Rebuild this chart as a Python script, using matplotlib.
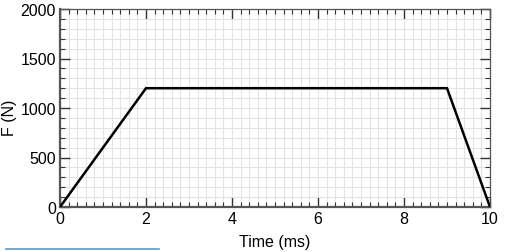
import matplotlib
matplotlib.use("Agg")
import matplotlib.pyplot as plt
from matplotlib.ticker import MultipleLocator
from matplotlib.lines import Line2D

time_ms = [0, 2, 9, 10]
force_n = [0, 1200, 1200, 0]
xticks = [0, 2, 4, 6, 8, 10]
yticks = [0, 500, 1000, 1500, 2000]

plt.rcParams['font.family'] = ['Liberation Sans', 'DejaVu Sans']

fig = plt.figure(figsize=(5.25, 2.53), dpi=100)
ax = fig.add_axes([60/525, 1-208/253, 430/525, 198/253])

ax.plot(time_ms, force_n, color='black', lw=1.8, solid_joinstyle='miter', zorder=3)
ax.set_xlim(0, 10)
ax.set_ylim(0, 2000)
ax.set_xticks(xticks)
ax.set_yticks(yticks)
ax.xaxis.set_minor_locator(MultipleLocator(0.2))
ax.yaxis.set_minor_locator(MultipleLocator(100))
ax.grid(which='both', color='#e3e3e3', lw=0.8, zorder=0)
ax.set_axisbelow(True)
ax.tick_params(which='major', direction='in', length=7, width=1, top=True, right=True,
               labelsize=11.5, color='#333333', pad=3)
ax.tick_params(which='minor', direction='in', length=3.5, width=0.8, top=True, right=True,
               color='#333333')
for s in ['top', 'right']:
    ax.spines[s].set_color('#555555')
    ax.spines[s].set_linewidth(0.9)
for s in ['left', 'bottom']:
    ax.spines[s].set_color('#555555')
    ax.spines[s].set_linewidth(1.6)
ax.set_xlabel('Time (ms)', fontsize=11.5, labelpad=6)
ax.set_ylabel('F (N)', fontsize=11.5)
ax.yaxis.set_label_coords(-(60 - 17) / 430, (208 - 118) / 198)

fig.add_artist(Line2D([6/525, 159/525], [1-249.5/253, 1-249.5/253],
                      color='#5b9bc8', lw=1.2, transform=fig.transFigure))

fig.savefig('out.png', dpi=100)
